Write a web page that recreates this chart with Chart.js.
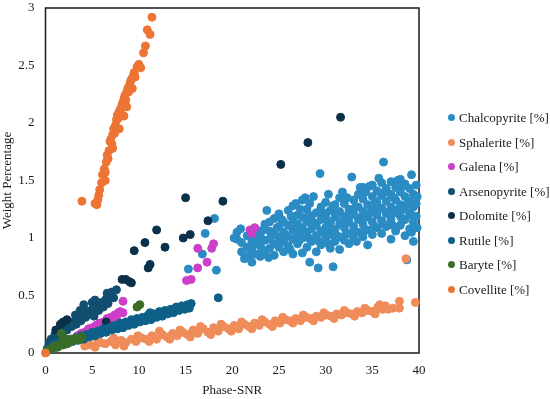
<!DOCTYPE html>
<html>
<head>
<meta charset="utf-8">
<title>Weight Percentage vs Phase-SNR</title>
<script src="https://cdn.jsdelivr.net/npm/chart.js@4.4.1/dist/chart.umd.min.js"></script>
<style>
  html, body { margin: 0; padding: 0; background: #fff; }
  #wrap { position: relative; width: 550px; height: 399px; }
  #legend { position: absolute; left: 448px; top: 110px; margin: 0; padding: 0; list-style: none;
    font-family: 'Liberation Serif', 'Times New Roman', serif; font-size: 13px; color: #1a1a1a; }
  #legend li { height: 24.5px; line-height: 16px; white-space: nowrap; }
  #legend span { display: inline-block; width: 7px; height: 7px; border-radius: 50%; margin-right: 4px; vertical-align: 1px; }
</style>
</head>
<body>
<div id="wrap">
  <canvas id="phaseChart" width="550" height="399"></canvas>
  <ul id="legend"></ul>
</div>
<script>
// Values: [Phase-SNR, Weight %]
const chalcopyrite = [
  [15.3,0.73],[16.8,0.86],[17.1,1.04],[18.1,1.17],[18.3,0.72],
  [20.5,0.99],[20.5,1.05],[21.0,0.88],[21.0,0.96],[21.3,0.82],[21.6,0.92],[21.6,1.02],
  [22.1,0.79],[22.1,0.89],[22.1,0.97],[22.5,0.86],[22.5,1.00],[22.5,1.08],
  [23.0,0.93],[23.0,1.03],[23.0,0.84],[23.5,0.87],[23.5,0.98],[23.5,1.12],[23.7,1.24],
  [24.0,0.91],[24.0,1.06],[24.0,1.14],[24.0,0.99],[24.5,0.85],[24.5,0.95],[24.5,1.03],[24.5,1.17],
  [25.0,0.92],[25.0,1.01],[25.0,1.10],[25.0,1.21],[25.5,0.88],[25.5,0.97],[25.5,1.05],[25.5,1.14],
  [26.0,0.93],[26.0,1.02],[26.0,1.11],[26.0,1.24],[26.5,0.86],[26.5,0.99],[26.5,1.07],[26.5,1.16],[26.5,1.28],
  [27.0,0.95],[27.0,1.03],[27.0,1.12],[27.0,1.20],[27.5,0.87],[27.5,1.00],[27.5,1.09],[27.5,1.18],[27.5,1.33],[27.8,1.35],
  [28.0,0.92],[28.0,1.05],[28.0,1.14],[28.0,1.25],[28.3,0.79],[28.5,0.97],[28.5,1.08],[28.5,1.19],[28.7,1.36],
  [29.0,0.88],[29.0,1.02],[29.0,1.11],[29.0,1.22],[29.2,0.74],[29.4,1.56],
  [29.5,0.94],[29.5,1.06],[29.5,1.16],[29.5,1.27],[30.0,0.99],[30.0,1.09],[30.0,1.20],[30.0,1.31],
  [30.5,0.91],[30.5,1.03],[30.5,1.13],[30.5,1.24],[30.8,0.75],[31.0,0.97],[31.0,1.07],[31.0,1.18],[31.0,1.29],
  [31.5,0.90],[31.5,1.01],[31.5,1.12],[31.5,1.23],[31.5,1.35],[32.0,0.98],[32.0,1.09],[32.0,1.19],[32.0,1.30],
  [32.5,0.95],[32.5,1.04],[32.5,1.14],[32.5,1.25],[32.8,1.53],[33.0,0.99],[33.0,1.10],[33.0,1.21],[33.0,1.33],[33.3,0.97],
  [33.5,1.05],[33.5,1.16],[33.5,1.27],[33.5,1.38],[34.0,1.01],[34.0,1.12],[34.0,1.23],[34.0,1.34],[34.0,1.44],
  [34.5,0.94],[34.5,1.07],[34.5,1.18],[34.5,1.29],[35.0,1.03],[35.0,1.14],[35.0,1.25],[35.0,1.36],[35.0,1.46],
  [35.5,1.09],[35.5,1.20],[35.5,1.31],[35.5,1.41],[36.0,1.04],[36.0,1.15],[36.0,1.26],[36.0,1.37],[36.0,1.48],[36.2,1.66],
  [36.5,1.10],[36.5,1.21],[36.5,1.32],[36.5,1.43],[37.0,0.99],[37.0,1.16],[37.0,1.27],[37.0,1.38],[37.0,1.49],
  [37.5,1.06],[37.5,1.22],[37.5,1.33],[37.5,1.44],[38.0,1.11],[38.0,1.19],[38.0,1.29],[38.0,1.40],[38.0,1.51],
  [38.5,1.02],[38.5,1.16],[38.5,1.25],[38.5,1.36],[38.5,1.47],[38.7,0.81],
  [39.0,1.08],[39.0,1.21],[39.0,1.32],[39.0,1.43],[39.2,1.55],[39.2,1.05],
  [39.4,0.97],[39.4,1.14],[39.4,1.27],[39.4,1.38],[39.7,1.19],[39.7,1.30],[39.7,1.46],
  [20.2,1.00],[20.9,1.08],[21.8,0.85],[22.3,0.94],[22.8,0.99],[23.2,0.90],[23.3,1.07],[23.9,0.83],
  [24.2,1.02],[24.8,1.09],[25.2,0.96],[25.3,1.16],[25.8,1.01],[26.2,0.90],[26.3,1.19],[26.8,1.09],
  [27.2,0.98],[27.3,1.25],[27.7,1.05],[28.2,1.00],[28.2,1.20],[28.8,1.13],[29.3,0.97],[29.7,1.22],
  [29.8,1.04],[30.2,1.15],[30.3,0.95],[30.7,1.08],[30.8,1.28],[31.2,1.02],[31.3,1.22],[31.8,1.15],
  [32.2,1.04],[32.3,1.35],[32.7,1.20],[33.2,1.05],[33.2,1.27],[33.8,1.18],[34.2,1.07],[34.3,1.40],
  [34.8,1.22],[35.2,1.10],[35.3,1.32],[35.8,1.25],[36.2,1.12],[36.3,1.40],[36.8,1.23],[37.2,1.11],
  [37.3,1.35],[37.8,1.25],[38.2,1.15],[38.3,1.45],[38.8,1.30],[39.2,1.20],[39.8,1.36],[39.8,1.09],
  [37.7,1.50],[35.7,1.52],[34.7,1.45],[33.7,1.44],[31.8,1.40],[30.3,1.38],[28.3,1.30],[26.8,1.30]
];

const sphalerite = [
  [4.2,0.06],[4.8,0.07],[5.3,0.05],[5.9,0.09],[6.4,0.08],[7.0,0.10],[7.5,0.07],[8.1,0.11],[8.6,0.09],
  [9.2,0.12],[9.7,0.10],[10.3,0.13],[10.8,0.12],[11.4,0.15],[11.9,0.12],[12.5,0.16],[13.0,0.14],
  [13.6,0.17],[14.1,0.15],[14.7,0.18],[15.2,0.16],[15.8,0.20],[16.3,0.17],[16.9,0.21],[17.4,0.18],
  [18.0,0.22],[18.5,0.19],[19.1,0.23],[19.6,0.21],[20.2,0.24],[20.7,0.21],[21.3,0.25],[21.8,0.23],
  [22.4,0.26],[22.9,0.24],[23.5,0.27],[24.0,0.25],[24.6,0.28],[25.1,0.26],[25.7,0.29],[26.2,0.28],
  [26.8,0.30],[27.3,0.28],[27.9,0.31],[28.4,0.30],[29.0,0.32],[29.5,0.31],[30.1,0.33],[30.6,0.32],
  [31.2,0.34],[31.7,0.33],[32.3,0.35],[32.8,0.34],[33.4,0.36],[33.9,0.35],[34.5,0.37],[35.0,0.36],
  [35.6,0.40],[36.1,0.38],[36.7,0.38],[37.2,0.39],[37.9,0.45],[37.9,0.39],[38.6,0.82],[39.6,0.44],
  [5.6,0.11],[7.3,0.13],[8.4,0.06],[9.9,0.15],[11.1,0.10],[12.2,0.19],[13.3,0.12],[14.4,0.20],
  [15.5,0.14],[16.6,0.23],[17.7,0.16],[18.8,0.25],[19.9,0.19],[21.0,0.27],[22.1,0.21],[23.2,0.29],
  [24.3,0.23],[25.4,0.31],[26.5,0.26],[27.6,0.33],[28.7,0.28],[29.8,0.35],[30.9,0.30],[32.0,0.37],
  [33.1,0.32],[34.2,0.39],[35.3,0.34],[35.8,0.42],[36.4,0.41]
];

const galena = [
  [3.0,0.12],[3.4,0.15],[3.8,0.17],[4.2,0.18],[4.4,0.16],[4.6,0.21],[5.0,0.22],[5.2,0.20],[5.4,0.24],
  [5.8,0.26],[6.0,0.24],[6.2,0.27],[6.6,0.30],[6.8,0.27],[7.0,0.31],[7.4,0.33],[7.6,0.31],[7.8,0.35],
  [8.0,0.36],[8.3,0.35],[8.3,0.45],
  [15.1,0.63],[15.6,0.64],[16.3,0.74],[16.3,0.91],[17.3,0.79],[17.8,0.91],[18.0,0.95],
  [21.9,1.07],[22.1,1.04],[22.4,1.09]
];

const arsenopyrite = [
  [0.2,0.04],[0.4,0.09],[0.6,0.12],[0.9,0.10],[1.0,0.16],[1.3,0.14],[1.5,0.19],[1.8,0.17],
  [2.0,0.22],[2.3,0.20],[2.5,0.25],[2.8,0.23],[3.0,0.27],[3.3,0.25],[3.5,0.30],[3.8,0.28],
  [4.0,0.33],[4.1,0.42],[4.3,0.31],[4.5,0.36],[4.8,0.34],[5.0,0.38],[5.0,0.44],[5.2,0.32],
  [5.3,0.46],[5.5,0.40],[5.7,0.37],[6.0,0.44],[6.2,0.40],[6.5,0.47],[6.6,0.52],[6.7,0.43],
  [7.0,0.50],[7.1,0.53],[7.3,0.48],[7.6,0.55],[3.2,0.33],[3.7,0.37]
];

const dolomite = [
  [1.1,0.20],[1.6,0.25],[1.9,0.27],[2.3,0.29],[6.5,0.27],
  [8.2,0.64],[8.6,0.64],[9.0,0.62],[9.2,0.61],
  [9.5,0.89],[10.65,0.96],[11.0,0.74],[11.2,0.77],[11.9,1.07],[12.8,0.92],
  [14.75,1.00],[15.0,1.35],[15.5,1.03],[17.4,1.15],[19.0,1.32],
  [25.2,1.64],[28.1,1.83],[31.6,2.05]
];

const rutile = [
  [0.2,0.03],[0.5,0.04],[0.8,0.07],[1.1,0.05],[1.4,0.09],[1.7,0.07],[2.0,0.10],[2.3,0.08],
  [2.6,0.12],[2.9,0.10],[3.2,0.13],[3.5,0.11],[3.8,0.15],[4.1,0.12],[4.4,0.16],[4.7,0.14],
  [5.0,0.18],[5.3,0.15],[5.6,0.19],[5.9,0.17],[6.2,0.21],[6.5,0.18],[6.8,0.22],[7.1,0.20],
  [7.4,0.24],[7.7,0.21],[8.0,0.26],[8.3,0.22],[8.6,0.27],[8.9,0.24],[9.2,0.29],[9.5,0.25],
  [9.8,0.30],[10.1,0.27],[10.4,0.31],[10.7,0.28],[11.0,0.33],[11.2,0.35],[11.3,0.29],[11.6,0.34],
  [11.9,0.31],[12.2,0.36],[12.5,0.32],[12.8,0.37],[13.1,0.34],[13.4,0.38],[13.7,0.35],[14.0,0.40],
  [14.3,0.37],[14.6,0.41],[14.9,0.38],[15.2,0.42],[15.4,0.39],[15.6,0.43],[18.5,0.48]
];

const baryte = [
  [0.1,0.01],[0.4,0.03],[0.7,0.04],[1.0,0.06],[1.3,0.05],[1.6,0.08],[1.7,0.17],[1.9,0.07],
  [2.0,0.13],[2.2,0.10],[2.5,0.09],[2.8,0.12],[3.1,0.11],[3.4,0.13],[3.7,0.12],[3.9,0.14],
  [9.8,0.40],[10.1,0.42]
];

const covellite = [
  [0,0],[3.9,1.32],[5.3,1.30],[5.5,1.29],[5.6,1.33],[5.7,1.37],[5.8,1.42],[6.0,1.48],[6.1,1.55],
  [6.3,1.60],[6.4,1.50],[6.4,1.57],[6.5,1.66],[6.6,1.72],[6.7,1.69],[6.8,1.76],[6.9,1.84],[7.0,1.86],
  [7.1,1.82],[7.2,1.78],[7.2,1.90],[7.3,1.95],[7.4,1.91],[7.5,1.98],[7.6,2.03],[7.7,2.07],[7.8,2.04],
  [7.9,1.95],[7.9,2.10],[8.0,2.12],[8.1,2.08],[8.2,2.16],[8.3,2.18],[8.4,2.06],[8.4,2.21],[8.5,2.24],
  [8.6,2.20],[8.7,2.14],[8.7,2.27],[8.8,2.30],[8.9,2.27],[9.0,2.33],[9.1,2.36],[9.2,2.38],[9.3,2.30],
  [9.4,2.41],[9.5,2.44],[9.6,2.40],[9.8,2.49],[10.0,2.51],[10.2,2.48],[10.5,2.61],[10.7,2.67],
  [10.9,2.81],[11.2,2.77],[11.4,2.92]
];

const seriesNames = ['Chalcopyrite [%]', 'Sphalerite [%]', 'Galena [%]', 'Arsenopyrite [%]',
  'Dolomite [%]', 'Rutile [%]', 'Baryte [%]', 'Covellite [%]'];
const seriesData = [chalcopyrite, sphalerite, galena, arsenopyrite, dolomite, rutile, baryte, covellite];
const seriesColors = ['#2b8cc4', '#f08c5a', '#cc3fc8', '#124e70', '#0b3049', '#0d6188', '#3a6e26', '#ec7434'];

const xTicks = { min: 0, max: 40, step: 5 };
const yTicks = { min: 0, max: 3, step: 0.5 };

// box round the plot area, drawn under the points
const frame = {
  id: 'frame',
  beforeDatasetsDraw(chart) {
    const { ctx, chartArea: a } = chart;
    ctx.save();
    ctx.strokeStyle = '#1a1a1a';
    ctx.lineWidth = 1.5;
    ctx.strokeRect(a.left, a.top, a.right - a.left, a.bottom - a.top);
    ctx.restore();
  }
};

document.addEventListener('DOMContentLoaded', () => {
  Chart.defaults.font.family = "'Liberation Serif', 'Times New Roman', serif";
  Chart.defaults.font.size = 13;
  Chart.defaults.color = '#1a1a1a';

  const datasets = seriesNames.map((name, i) => ({
    label: name,
    data: seriesData[i].map(p => ({ x: p[0], y: p[1] })),
    backgroundColor: seriesColors[i],
    borderColor: seriesColors[i],
    pointRadius: 4,
    pointHoverRadius: 4,
    pointBorderWidth: 1,
    order: seriesNames.length - i,   // later series on top, like the original
    clip: false
  }));

  // legend as plain html on the right
  const legend = document.getElementById('legend');
  seriesNames.forEach((name, i) => {
    const li = document.createElement('li');
    li.innerHTML = '<span style="background:' + seriesColors[i] + '"></span>' + name;
    legend.appendChild(li);
  });

  const ctx = document.getElementById('phaseChart').getContext('2d');
  new Chart(ctx, {
    type: 'scatter',
    data: { datasets },
    options: {
      responsive: false,
      animation: false,
      layout: { autoPadding: false, padding: { top: 0, right: 131, bottom: 0, left: 0 } },
      scales: {
        x: {
          type: 'linear',
          min: xTicks.min, max: xTicks.max,
          grid: { display: false, drawTicks: false },
          border: { display: false },
          ticks: { stepSize: xTicks.step, padding: 10, callback: v => String(v) },
          title: { display: true, text: 'Phase-SNR', padding: { top: 4, bottom: 1 } },
          afterFit: s => { s.height = 46; }
        },
        y: {
          min: yTicks.min, max: yTicks.max,
          grid: { display: false, drawTicks: false },
          border: { display: false },
          ticks: { stepSize: yTicks.step, padding: 11, callback: v => String(v) },
          title: { display: true, text: 'Weight Percentage', padding: { top: 0, bottom: 2 } },
          // tick padding would otherwise push the plot top down
          afterFit: s => { s.width = 45.5; s.paddingTop = 8; s.paddingBottom = 8; }
        }
      },
      plugins: {
        legend: { display: false },
        tooltip: { enabled: false }
      }
    },
    plugins: [frame]
  });
});
</script>
</body>
</html>
